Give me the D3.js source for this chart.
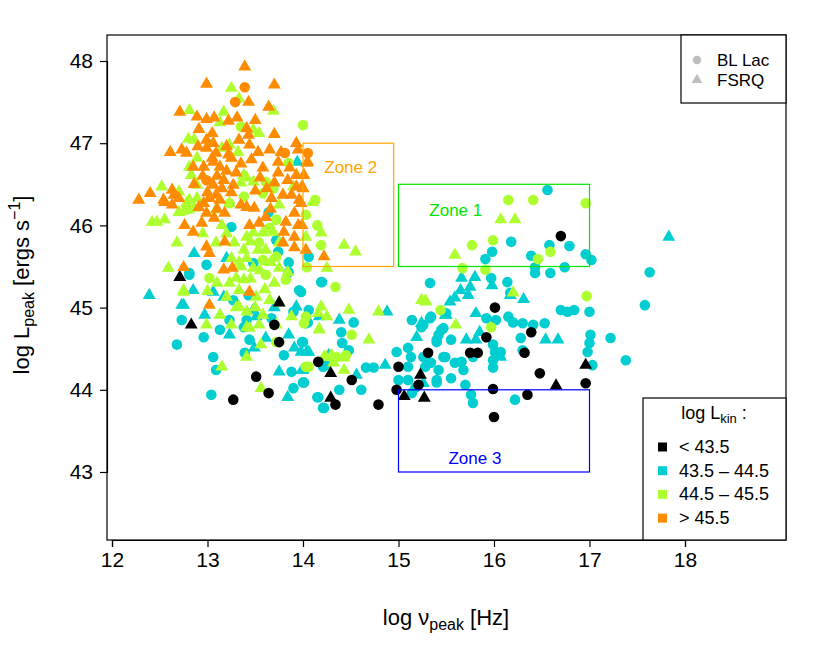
<!DOCTYPE html>
<html>
<head>
<meta charset="utf-8">
<script src="https://cdn.jsdelivr.net/npm/d3@7"></script>
<style>
  body { margin: 0; background: #fff; }
  svg { font-family: "Liberation Sans", Arial, sans-serif; }
</style>
</head>
<body>
<svg id="chart" width="822" height="646"></svg>
<script>
// Data (log nu_peak, log L_peak)

const xTicks = [12, 13, 14, 15, 16, 17, 18];
const yTicks = [43, 44, 45, 46, 47, 48];

// FSRQ, log Lkin > 45.5
const fsOrange = [
  [13.39,47.93],[12.99,47.72],[13.70,47.71],[13.43,47.50],[13.64,47.44],[12.71,47.38],[12.89,47.32],
  [12.99,47.29],[13.07,47.31],[13.31,47.31],[13.50,47.28],[13.22,47.27],[12.91,47.17],[13.41,47.18],
  [13.43,47.10],[13.33,47.04],[13.70,47.11],[12.61,46.89],[12.73,46.92],[12.78,46.88],[12.99,47.04],
  [13.06,47.00],[12.99,46.94],[13.09,46.88],[13.22,46.86],[13.25,46.82],[13.44,46.98],[13.53,46.89],
  [13.65,46.92],[13.77,46.89],[13.93,47.00],[13.95,46.92],[13.74,46.77],[14.05,46.77],[12.85,46.71],
  [12.96,46.71],[13.06,46.77],[13.13,46.71],[13.58,46.70],[13.74,46.64],[13.84,46.55],[13.93,46.61],
  [14.01,46.61],[13.17,46.55],[13.27,46.49],[13.30,46.64],[13.06,46.49],[13.70,46.52],[13.93,46.47],
  [14.00,46.45],[12.40,46.39],[12.63,46.43],[12.65,46.37],[12.70,46.33],[12.28,46.31],[12.54,46.31],
  [13.02,46.33],[13.09,46.37],[13.13,46.31],[13.67,46.33],[13.79,46.37],[13.88,46.37],[13.96,46.31],
  [14.04,46.76],[13.99,46.47],[13.98,46.27],[13.99,46.00],[14.03,45.70],[14.22,45.62],
  [12.55,46.28],[12.63,46.25],[12.76,46.00],[12.85,45.92],[12.94,46.03],[12.99,46.15],[13.07,46.09],
  [13.18,46.15],[13.35,46.25],[13.44,46.00],[13.54,46.03],[13.61,46.10],[13.82,46.04],[13.80,45.92],
  [13.91,46.15],[13.95,46.00],[13.91,45.86],[13.79,45.79],[13.91,45.73],[12.99,45.74],[13.02,45.66],
  [13.18,45.80],[13.17,45.46],[13.26,45.48],[12.75,45.49],[13.44,45.19],[13.02,45.03],[12.96,46.27],
  [13.41,46.22],[13.49,46.21],
  [13.05,46.82],[13.10,46.60],[13.15,46.45],[13.00,46.40],[12.95,46.60],[13.20,46.66],[13.25,46.40],
  [13.10,46.20],[13.20,46.96],[13.05,47.12],[12.90,46.96],[13.35,46.75],[13.46,46.80],[13.55,46.58],
  [13.62,46.45],[13.86,46.70],[13.66,46.20],[13.50,46.42],[12.86,46.50],[12.91,46.22]
];
// BL Lac, log Lkin > 45.5
const blOrange = [
  [13.39,47.68],[13.29,47.50],[13.81,46.88],[14.05,46.88],[12.99,46.55]
];
// FSRQ, 44.5 - 45.5
const fsGreen = [
  [13.25,47.67],[13.33,47.54],[12.81,47.40],[13.17,47.38],[13.69,47.39],[13.13,47.25],[13.48,47.16],
  [13.54,47.12],[12.80,47.05],[12.86,47.04],[13.15,46.94],[13.23,46.98],[13.32,46.89],[12.89,46.82],
  [12.81,46.71],[12.83,46.61],[12.89,46.49],[13.38,46.61],[13.41,46.58],[13.48,46.53],[13.35,46.52],
  [12.52,46.47],[12.70,46.41],[12.81,46.31],[12.89,46.33],[13.90,46.47],[14.10,46.28],
  [14.03,45.86],[14.19,45.91],[14.43,45.76],[14.55,45.68],[14.25,45.48],
  [12.42,46.04],[12.47,46.04],[12.55,46.07],[12.68,45.79],[12.59,45.48],[12.75,45.21],[13.09,45.79],
  [13.28,45.79],[13.38,45.70],[13.41,45.86],[13.48,45.91],[13.58,45.91],[13.69,45.92],[13.75,45.79],
  [13.53,45.70],[13.61,45.70],[13.41,45.60],[13.33,45.55],[13.48,45.48],[13.75,45.48],[13.84,45.43],
  [13.30,45.36],[13.23,45.30],[13.38,45.34],[13.20,45.13],[13.33,45.21],[13.51,45.13],[13.65,45.09],
  [13.75,45.06],[13.13,44.91],[13.33,45.01],[13.41,44.95],[13.58,44.91],[13.88,44.89],[14.16,44.93],
  [12.99,44.79],[13.41,44.76],[13.54,44.79],[13.72,44.79],[12.70,46.16],[12.80,46.19],[12.86,46.21],
  [13.09,46.19],[13.23,46.27],[13.75,46.25],[12.78,46.27],
  [13.25,44.79],[13.44,44.75],[14.17,44.73],[13.15,44.28],[13.41,44.40],[13.56,44.02],[14.22,44.40],
  [13.56,44.55],
  [14.19,45.01],[14.25,44.89],[14.48,44.97],[14.79,44.95],[14.17,44.74],[14.69,44.61],[14.24,44.40],
  [14.30,44.42],[14.43,44.39],[14.32,44.33],[14.43,44.24],[15.24,45.09],[15.29,45.07],
  [16.07,46.07],[16.22,46.07],[15.59,45.64],[16.20,45.18],[15.28,45.08],[15.60,44.79],[12.75,45.19],
  [13.35,45.50],[13.45,45.35],[13.55,45.45],[13.25,45.60],[13.20,45.90],[13.15,46.00],[12.95,45.90],
  [13.00,45.20],[13.10,45.30],[13.30,45.00],[13.50,45.00],[13.60,45.22],[13.45,45.80],[13.66,45.55],
  [13.70,45.30]
];
// BL Lac, 44.5 - 45.5
const blGreen = [
  [14.00,47.22],[13.35,47.20],[13.85,46.76],[13.61,46.53],[13.69,46.45],[13.38,46.35],[13.23,46.27],
  [13.58,46.39],[14.13,46.31],[14.03,46.13],[14.15,46.00],[14.19,45.76],[14.04,45.49],[14.34,45.25],
  [13.72,46.07],[13.65,45.97],[13.54,45.79],[13.58,45.58],[13.72,45.62],[13.02,45.36],[13.61,45.40],
  [13.82,45.34],[14.03,44.89],[12.78,46.19],
  [13.72,44.58],[14.03,44.28],[14.01,44.81],[14.51,44.67],[14.35,44.40],[14.45,44.42],[14.06,44.28],
  [15.44,44.97],[16.15,46.31],[16.41,46.31],[16.96,46.27],[15.99,45.82],[15.77,45.76],[16.59,45.68],
  [16.46,45.59],[15.67,45.48],[15.91,45.46],[16.97,45.14],[15.97,44.76]
];
// FSRQ, 43.5 - 44.5
const fsCyan = [
  [13.94,46.77],[12.86,45.66],[12.39,45.15],[12.85,45.21],[12.75,45.03],[12.97,44.91],[13.06,45.19],
  [13.17,45.13],[13.20,45.60],[13.48,44.97],[13.51,44.89],[13.70,45.00],[13.93,45.01],[14.17,44.89],
  [13.23,44.67],[13.61,44.63],[13.85,44.67],[13.91,44.51],[13.98,44.46],[14.06,44.46],[13.75,44.22],
  [14.00,44.24],[13.84,43.91],[13.49,44.51],
  [14.38,44.85],[14.88,44.95],[15.19,44.64],[14.04,44.46],[14.27,44.42],[14.86,44.30],[14.56,44.18],
  [13.99,44.24],[15.24,44.81],[15.49,44.91],
  [15.66,45.36],[15.80,45.37],[15.75,45.25],[15.98,45.27],[15.65,45.21],[15.73,45.15],[15.59,45.12],
  [15.54,45.07],[16.17,45.15],[16.31,45.10],
  [15.50,44.91],[15.81,44.93],[15.71,44.61],[15.85,44.70],[15.81,44.61],[16.07,44.40],[15.26,44.08],
  [16.54,44.61],[16.67,44.61],[17.83,45.86],[12.73,45.03]
];
// BL Lac, 43.5 - 44.5
const blCyan = [
  [13.25,45.98],[13.64,46.16],[13.72,45.82],[13.85,45.55],[13.85,45.43],[13.96,45.21],[14.06,45.62],
  [14.19,45.31],[12.81,45.42],[13.74,45.68],[12.99,45.52],[13.48,45.54],[13.43,45.15],[13.27,45.09],
  [13.41,44.85],[13.23,44.85],[13.67,44.87],[13.90,44.95],[14.06,44.97],[14.05,44.82],[12.73,44.85],
  [14.20,45.31],[13.98,45.19],
  [12.96,44.64],[12.68,44.55],[13.06,44.40],[13.09,44.24],[13.04,43.94],[13.13,44.73],[13.38,44.76],
  [13.44,44.61],[13.39,44.45],[13.80,44.42],[13.88,44.22],[14.00,44.09],[13.90,44.02],[14.16,43.91],
  [14.21,43.78],[14.00,44.58],[14.21,44.28],[14.03,44.81],
  [14.53,44.82],[14.40,44.70],[14.41,44.57],[14.48,44.48],[13.99,44.58],[14.01,44.09],[14.24,44.30],
  [14.66,44.27],[14.74,44.27],[15.14,44.85],[15.33,44.87],[15.26,44.79],[15.45,44.73],[15.40,44.61],
  [14.98,44.46],[15.10,44.51],[15.13,44.40],[15.26,44.40],[15.28,44.28],[15.42,44.24],[15.10,44.28],
  [15.47,44.40],[15.00,44.12],[15.10,44.12],[15.40,44.12],[15.18,44.03],[14.61,44.00],[14.38,44.00],
  [14.15,43.91],[14.22,43.78],[15.14,43.96],
  [16.56,46.43],[16.18,45.80],[16.58,45.76],[16.79,45.75],[15.98,45.68],[15.91,45.59],[16.39,45.63],
  [16.96,45.65],[17.02,45.58],[16.74,45.49],[16.43,45.49],[16.43,45.42],[16.59,45.42],[15.97,45.36],
  [16.14,45.31],[15.33,45.30],[16.17,45.18],[16.70,44.97],[16.77,44.95],[16.84,44.97],[17.00,44.95],
  [15.34,44.89],[15.50,44.93],
  [15.24,44.76],[15.92,44.87],[16.02,44.85],[16.15,44.89],[16.20,44.82],[16.30,44.81],[16.41,44.79],
  [16.53,44.81],[17.01,44.67],[17.22,44.63],[17.00,44.57],[16.98,44.46],[17.03,44.30],[16.28,44.63],
  [16.30,44.48],[15.47,44.75],[15.42,44.67],[15.55,44.61],[15.40,44.58],[15.99,44.55],[16.01,44.46],
  [16.07,44.46],[15.99,44.36],[15.99,44.27],[15.28,44.40],[15.34,44.33],[15.49,44.40],[15.59,44.33],
  [15.66,44.34],[15.68,44.24],[15.78,44.40],[15.55,44.14],[15.40,44.09],[15.70,44.06],[15.76,43.94],
  [15.78,43.84],[16.22,43.88],[17.63,45.43],[17.58,45.03],[17.38,44.36],[12.81,45.40]
];
// FSRQ, log Lkin < 43.5
const fsBlack = [
  [12.71,45.37],[12.83,44.79],[13.75,45.06],[14.29,44.20],[14.29,43.90],[15.23,44.18],[15.06,43.92],
  [15.27,43.90],[16.96,44.30],[16.65,44.05]
];
// BL Lac, log Lkin < 43.5
const blBlack = [
  [13.70,44.79],[13.75,44.58],[14.16,44.34],[13.51,44.16],[13.64,43.96],[13.27,43.88],[14.51,44.12],
  [15.00,44.28],[15.31,44.45],[14.34,43.82],[14.79,43.82],[14.98,44.00],[15.21,44.06],[16.39,44.70],
  [16.32,44.45],[15.75,44.45],[15.83,44.45],[15.92,44.64],[16.48,44.20],[15.99,44.01],[16.35,43.94],
  [16.00,43.67],[16.96,44.08],[16.70,45.87],[16.01,45.00]
];

// zones: [x0, x1, y0, y1]
const zoneNames = ["Zone 1", "Zone 2", "Zone 3"];
const zoneBounds = [[15, 17, 45.5, 46.5], [14, 14.95, 45.5, 47], [15, 17, 43, 44]];
const zoneLabelAt = [[15.6, 46.18], [14.5, 46.7], [15.8, 43.17]];
const zoneColors = ["#00e600", "#ffa500", "#0000ff"];

const typeLabels = ["BL Lac", "FSRQ"];
const kinLabels = ["< 43.5", "43.5 \u2013 44.5", "44.5 \u2013 45.5", "> 45.5"];
const kinColors = ["#000000", "#00ced1", "#adff2f", "#ff8c00"];

// Setup
const svg = d3.select("#chart");
const box = { left: 107, right: 786, top: 35, bottom: 540 };

const x = d3.scaleLinear().domain([12, 18]).range([112, 685]);
const y = d3.scaleLinear().domain([43, 48]).range([472, 61]);

// Points
const circle = d3.symbol().type(d3.symbolCircle).size(88);
const tri = d3.symbol().type(d3.symbolTriangle).size(72);

const groups = [
  [blCyan, circle, kinColors[1]],
  [fsCyan, tri, kinColors[1]],
  [fsGreen, tri, kinColors[2]],
  [blGreen, circle, kinColors[2]],
  [blBlack, circle, kinColors[0]],
  [fsBlack, tri, kinColors[0]],
  [fsOrange, tri, kinColors[3]],
  [blOrange, circle, kinColors[3]]
];

const pts = svg.append("g");
groups.forEach(([data, sym, col]) => {
  pts.selectAll(null)
    .data(data)
    .enter()
    .append("path")
    .attr("d", sym)
    .attr("transform", (d) => `translate(${x(d[0])},${y(d[1])})`)
    .attr("fill", col);
});

// Zones
const zg = svg.append("g");
zoneBounds.forEach((b, i) => {
  zg.append("rect")
    .attr("x", x(b[0]))
    .attr("y", y(b[3]))
    .attr("width", x(b[1]) - x(b[0]))
    .attr("height", y(b[2]) - y(b[3]))
    .attr("fill", "none")
    .attr("stroke", zoneColors[i])
    .attr("stroke-width", 1.2);
  zg.append("text")
    .attr("x", x(zoneLabelAt[i][0]))
    .attr("y", y(zoneLabelAt[i][1]))
    .attr("text-anchor", "middle")
    .attr("dominant-baseline", "central")
    .attr("font-size", 17)
    .attr("fill", zoneColors[i])
    .text(zoneNames[i]);
});

// Frame
svg.append("rect")
  .attr("x", box.left)
  .attr("y", box.top)
  .attr("width", box.right - box.left)
  .attr("height", box.bottom - box.top)
  .attr("fill", "none")
  .attr("stroke", "#000")
  .attr("stroke-width", 1.2);

// Axes
const xAxis = svg.append("g")
  .attr("transform", `translate(0,${box.bottom})`)
  .call(d3.axisBottom(x).tickValues(xTicks).tickSize(7).tickPadding(5).tickFormat(d3.format("d")));
const yAxis = svg.append("g")
  .attr("transform", `translate(${box.left},0)`)
  .call(d3.axisLeft(y).tickValues(yTicks).tickSize(7).tickPadding(7).tickFormat(d3.format("d")));

[xAxis, yAxis].forEach((a) => {
  a.select(".domain").attr("stroke-width", 1.2);
  a.selectAll(".tick line").attr("stroke-width", 1.2);
  a.selectAll("text")
    .attr("font-size", 21)
    .attr("font-family", "Liberation Sans, Arial, sans-serif")
    .attr("fill", "#000");
});

// Axis titles
const xt = svg.append("text")
  .attr("x", 446)
  .attr("y", 625)
  .attr("text-anchor", "middle")
  .attr("font-size", 22);
xt.append("tspan").text("log \u03bd");
xt.append("tspan").attr("font-size", 16).attr("dy", 5).text("peak");
xt.append("tspan").attr("dy", -5).text(" [Hz]");

const yt = svg.append("text")
  .attr("transform", "translate(29,285) rotate(-90)")
  .attr("text-anchor", "middle")
  .attr("font-size", 22);
yt.append("tspan").text("log L");
yt.append("tspan").attr("font-size", 16).attr("dy", 5).text("peak");
yt.append("tspan").attr("dy", -5).text(" [ergs s");
yt.append("tspan").attr("font-size", 16).attr("dy", -9).text("\u22121");
yt.append("tspan").attr("dy", 9).text("]");

// Legend: source type
const lg1 = svg.append("g");
lg1.append("rect")
  .attr("x", 681).attr("y", box.top)
  .attr("width", box.right - 681).attr("height", 68)
  .attr("fill", "#fff").attr("stroke", "#000").attr("stroke-width", 1.2);
[circle.size(55), tri.size(50)].forEach((s, i) => {
  lg1.append("path")
    .attr("d", s)
    .attr("transform", `translate(697,${60 + i * 20})`)
    .attr("fill", "#bebebe");
  lg1.append("text")
    .attr("x", 717).attr("y", 60 + i * 20)
    .attr("dominant-baseline", "central")
    .attr("font-size", 17)
    .text(typeLabels[i]);
});

// Legend: kinetic luminosity
const lg2 = svg.append("g");
lg2.append("rect")
  .attr("x", 643).attr("y", 398)
  .attr("width", box.right - 643).attr("height", box.bottom - 398)
  .attr("fill", "#fff").attr("stroke", "#000").attr("stroke-width", 1.2);
const lt = lg2.append("text")
  .attr("x", 714).attr("y", 419)
  .attr("text-anchor", "middle")
  .attr("font-size", 18);
lt.append("tspan").text("log L");
lt.append("tspan").attr("font-size", 13).attr("dy", 4).text("kin");
lt.append("tspan").attr("dy", -4).text(" :");

kinLabels.forEach((lab, i) => {
  const cy = 447 + i * 23.7;
  lg2.append("rect")
    .attr("x", 658).attr("y", cy - 4.5)
    .attr("width", 9).attr("height", 9)
    .attr("fill", kinColors[i]);
  lg2.append("text")
    .attr("x", 679).attr("y", cy)
    .attr("dominant-baseline", "central")
    .attr("font-size", 18)
    .text(lab);
});
</script>
</body>
</html>
